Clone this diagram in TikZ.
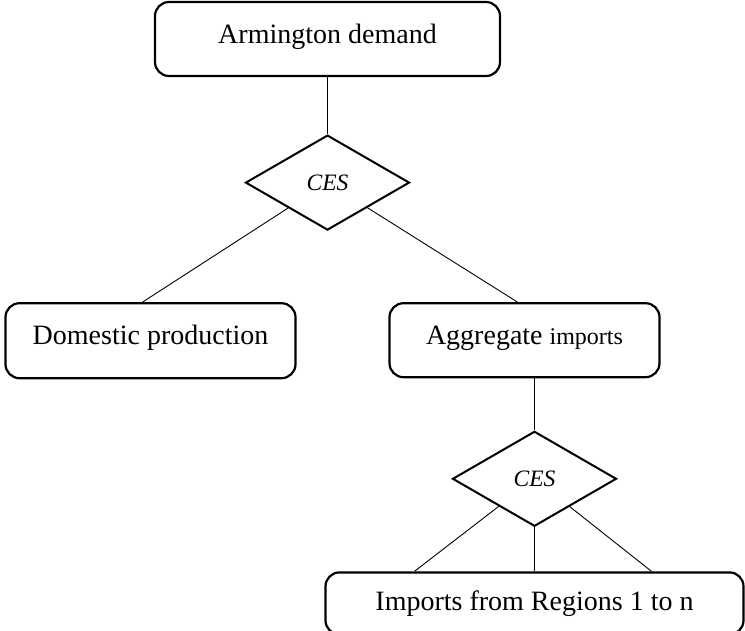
\documentclass[tikz,border=0pt]{standalone}
\usepackage{fontspec}
\setmainfont{Liberation Serif}
\usetikzlibrary{positioning,calc,shapes.geometric}
\tikzset{
  box/.style={draw, line width=2.2pt, rounded corners=14pt, font=\fontsize{28}{34}\selectfont},
  raised/.style={text height=20pt, text depth=12pt},
  ces/.style={draw, diamond, line width=2pt, minimum width=164pt, minimum height=95pt,
              inner sep=0pt, font=\fontsize{23.5}{28}\selectfont\itshape},
  link/.style={line width=0.9pt}
}
\begin{document}
\begin{tikzpicture}[x=1pt,y=1pt]
\useasboundingbox (0,0) rectangle (745,-630);
\node [box,raised,minimum width=345pt,minimum height=74pt] (top) at (327.5,-39) {Armington demand};
\node [ces,below=57pt of top] (cesA) {CES};
\node [box,raised,minimum width=290pt,minimum height=75pt,below=71pt of cesA,xshift=-177pt] (dom) {Domestic production};
\node [box,raised,minimum width=270pt,minimum height=74pt,below=71pt of cesA,xshift=197pt] (agg)
      {Aggregate {\fontsize{24}{30}\selectfont imports}};
\node [ces,below=52pt of agg,xshift=10pt] (cesB) {CES};
\node [box,minimum width=418pt,minimum height=62pt,below=44pt of cesB] (imp) {Imports from Regions 1 to n};
% connectors
\draw [link] (top.south) -- (cesA.north);
\draw [link] (cesA) -- ($(dom.north)+(-8,0)$);
\draw [link] (cesA) -- ($(agg.north)+(-7,0)$);
\draw [link] (cesB.north |- agg.south) -- (cesB.north);
\draw [link] (cesB) -- ($(imp.north)+(-120,0)$);
\draw [link] (cesB.south) -- (cesB.south |- imp.north);
\draw [link] (cesB) -- ($(imp.north)+(117,0)$);
\end{tikzpicture}
\end{document}
